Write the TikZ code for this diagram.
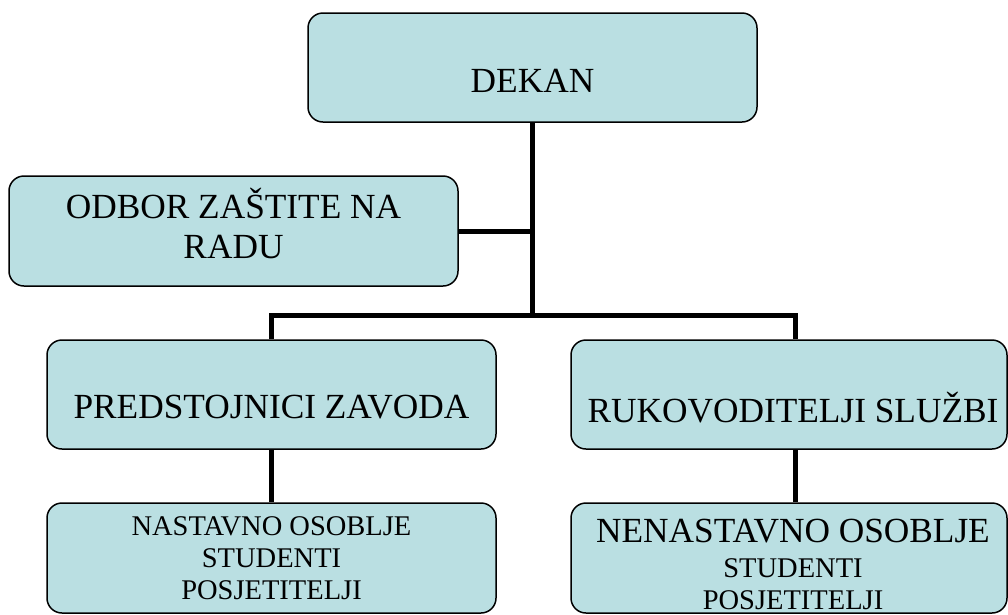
\documentclass[tikz,border=0pt]{standalone}
\usepackage{fontspec}
\setmainfont{Liberation Serif}
\definecolor{boxfill}{RGB}{186,223,226}
\tikzset{
  orgbox/.style={draw=black, line width=1.5pt, fill=boxfill, rounded corners=15pt,
    rectangle, inner sep=0pt, minimum width=449pt, minimum height=109pt},
  big/.style={font=\fontsize{35.3}{40}\selectfont, align=center, inner sep=0pt},
  small/.style={font=\fontsize{28.5}{32}\selectfont, align=center, inner sep=0pt},
  conn/.style={line width=5pt, line join=miter, black}
}
\begin{document}
\begin{tikzpicture}[x=1pt,y=-1pt]
\useasboundingbox (0,0) rectangle (1008,614);
\node[orgbox, label={[big, yshift=-13.5pt]center:DEKAN}] (dekan) at (532.5,67.5) {};
\node[orgbox, minimum height=110pt, label={[big, yshift=7.5pt]center:ODBOR ZAŠTITE NA\\RADU}] (odbor) at (233.5,231) {};
\node[orgbox, label={[big, yshift=-13pt]center:PREDSTOJNICI ZAVODA}] (pred) at (271.5,394.5) {};
\node[orgbox, minimum width=436pt, label={[big, yshift=-13pt, xshift=4pt]center:RUKOVODITELJI SLUŽBI}] (ruk) at (789,394.5) {};
\node[orgbox, minimum height=110pt, label={[small, yshift=0pt]center:NASTAVNO OSOBLJE\\STUDENTI\\POSJETITELJI}] (nast) at (271.5,558) {};
\node[orgbox, minimum width=436pt, minimum height=110pt, label={[small, yshift=-6.5pt, xshift=4pt]center:{\fontsize{35.3}{32}\selectfont NENASTAVNO OSOBLJE}\\[3pt]STUDENTI\\POSJETITELJI}] (nen) at (789,558) {};
\coordinate (j) at (532.5,315);
\draw[conn] (dekan.south) -- (j);
\draw[conn] (odbor.east) -- (odbor.east -| dekan.south);
\draw[conn] (pred.north) |- (j) -| ([xshift=6pt]ruk.north);
\draw[conn] (pred.south) -- (nast.north);
\draw[conn] ([xshift=6pt]ruk.south) -- ([xshift=6pt]nen.north);
\end{tikzpicture}
\end{document}
